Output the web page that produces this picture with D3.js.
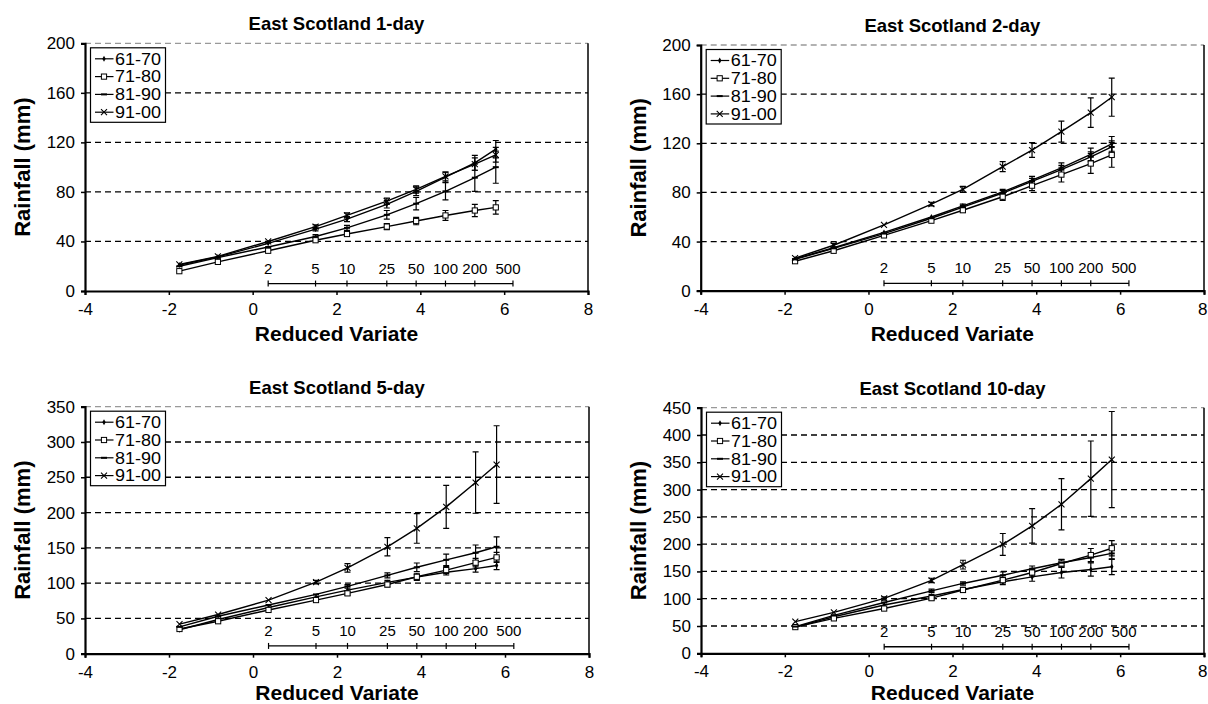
<!DOCTYPE html>
<html><head><meta charset="utf-8">
<script src="https://cdn.jsdelivr.net/npm/d3@7"></script>
<style>
body{margin:0;background:#fff;}
svg{display:block;font-family:"Liberation Sans",Arial,Helvetica,sans-serif;}
</style></head><body>
<svg id="c" width="1208" height="704"></svg>
<script>
// ---------- data ----------
const seriesNames = ["61-70", "71-80", "81-90", "91-00"];
const reducedVariate = [-1.75, -0.83, 0.37, 1.50, 2.25, 3.20, 3.90, 4.60, 5.30, 5.80];
const returnPeriods = ["2", "5", "10", "25", "50", "100", "200", "500"];
const returnVariate = [0.37, 1.50, 2.25, 3.20, 3.90, 4.60, 5.30, 6.21];
const titles = ["East Scotland 1-day", "East Scotland 2-day", "East Scotland 5-day", "East Scotland 10-day"];
const yMaxes = [200, 200, 350, 450];
const yTickSteps = [40, 40, 50, 50];
const xTicks = [-4, -2, 0, 2, 4, 6, 8];
const returnAxisLevel = [6, 6, 11, 12];

const day1 = [
  [21, 27.5, 38.5, 50, 58, 70, 80.5, 92, 103.5, 114.5],
  [16, 23.5, 32.5, 41, 46, 52, 56.5, 61, 65, 67.5],
  [20, 27, 35.5, 44, 51, 61.5, 70.5, 80.5, 91.5, 100],
  [21.5, 28, 40, 52, 61, 72.5, 82, 92.5, 102.5, 110]
];
const day1Err = [
  [0.5, 0.5, 1, 1.5, 2, 3, 3.5, 4, 6, 7],
  [0.5, 0.5, 1, 1, 1.5, 2.5, 3, 4, 5, 5.5],
  [0.5, 0.5, 1, 1.5, 2, 3.5, 5, 7, 11, 13],
  [0.5, 0.5, 1, 1.5, 2, 2.5, 3, 3.5, 5, 6]
];
const day2 = [
  [26, 35, 47.5, 60, 69, 80.5, 90, 100, 111, 119.5],
  [24, 32.5, 45, 57, 65.5, 76.5, 85.5, 94.5, 103.5, 110.5],
  [25.5, 34.5, 46.5, 59, 68, 79.5, 89, 98.5, 109, 117],
  [26.5, 37, 53.5, 70.5, 82.5, 101, 114.5, 129.5, 145, 157.5]
];
const day2Err = [
  [0.5, 0.5, 1, 1, 1.5, 2, 3, 4, 5, 6],
  [0.5, 0.5, 1, 1, 1.5, 3, 4, 6, 8, 10],
  [0.5, 0.5, 1, 1, 1.5, 2, 2.5, 3.5, 4, 5],
  [0.5, 1.5, 1, 1.5, 2.5, 4, 6, 8.5, 12, 15.5]
];
const day5 = [
  [34, 48.5, 65.5, 80.5, 90, 101, 108.5, 115.5, 120.5, 125],
  [35, 46, 62, 76, 85.5, 98, 109, 118.5, 129, 136.5],
  [38, 53, 69, 84, 95.5, 111, 122.5, 133, 143, 151.5],
  [42, 55.5, 76, 101.5, 121.5, 151.5, 177.5, 208, 242.5, 268]
];
const day5Err = [
  [1, 1, 1, 1.5, 2, 3, 3.5, 4, 5, 6],
  [1, 1, 1, 2, 2.5, 3.5, 5, 5, 6, 7],
  [1, 1, 1, 2, 2.5, 3.5, 6, 8, 11, 14],
  [1, 1, 1.5, 2.5, 6, 13, 21, 30.5, 43.5, 55]
];
const day10 = [
  [48, 67, 88.5, 105, 117, 131, 140, 148, 153.5, 158.5],
  [48, 64, 82, 101, 116, 134, 148, 164.5, 180, 192.5],
  [49, 69.5, 93, 114.5, 128, 143, 155, 166, 175.5, 183],
  [58, 75, 100.5, 133.5, 162.5, 199.5, 233.5, 273, 320, 355]
];
const day10Err = [
  [1, 1, 2, 3, 4, 5, 8, 10, 12, 14.5],
  [1, 1, 2, 3, 4, 5, 6, 7, 12, 14],
  [1, 1, 2, 3, 3, 6, 5, 6, 8, 11],
  [1, 2, 3, 4, 8, 20, 31.5, 47, 69, 88]
];

// ---------- layout ----------
const frames = [
  {l: 85, r: 588, t: 43.3, b: 291},
  {l: 700.7, r: 1204, t: 45, b: 290.7},
  {l: 85, r: 589, t: 406.7, b: 653.7},
  {l: 701, r: 1204, t: 407.7, b: 653.3}
];
const allData = [day1, day2, day5, day10];
const allErr = [day1Err, day2Err, day5Err, day10Err];

const svg = d3.select("#c");
svg.append("rect").attr("width", 1208).attr("height", 704).attr("fill", "#fff");

function drawMarker(g, type, cx, cy) {
  if (type === 0) {
    g.append("path").attr("d", d3.symbol(d3.symbolDiamond, 10)())
      .attr("transform", `translate(${cx},${cy})`).attr("fill", "#000");
  } else if (type === 1) {
    g.append("rect").attr("x", cx - 2.6).attr("y", cy - 2.6).attr("width", 5.2).attr("height", 5.2)
      .attr("fill", "#fff").attr("stroke", "#000").attr("stroke-width", 1);
  } else if (type === 2) {
    g.append("line").attr("x1", cx - 3).attr("x2", cx + 3).attr("y1", cy).attr("y2", cy)
      .attr("stroke", "#000").attr("stroke-width", 2);
  } else {
    g.append("path").attr("d", `M${cx-3},${cy-3}L${cx+3},${cy+3}M${cx-3},${cy+3}L${cx+3},${cy-3}`)
      .attr("stroke", "#000").attr("stroke-width", 1.1).attr("fill", "none");
  }
}

frames.forEach((f, pi) => {
  const x = d3.scaleLinear().domain([-4, 8]).range([f.l, f.r]);
  const y = d3.scaleLinear().domain([0, yMaxes[pi]]).range([f.b, f.t]);
  const yTicks = d3.range(0, yMaxes[pi] + 1, yTickSteps[pi]);
  const g = svg.append("g");

  // gridlines
  g.append("g").selectAll("line").data(yTicks.filter(v => v > 0 && v < yMaxes[pi])).join("line")
    .attr("x1", f.l).attr("x2", f.r).attr("y1", d => y(d)).attr("y2", d => y(d))
    .attr("stroke", "#000").attr("stroke-width", 1.3).attr("stroke-dasharray", "6,4");
  // top border (dashed, lighter)
  g.append("line").attr("x1", f.l).attr("x2", f.r).attr("y1", y(yMaxes[pi])).attr("y2", y(yMaxes[pi]))
    .attr("stroke", "#999").attr("stroke-width", 1.3).attr("stroke-dasharray", "6,4");
  // right border
  g.append("line").attr("x1", f.r).attr("x2", f.r).attr("y1", f.t).attr("y2", f.b)
    .attr("stroke", "#000").attr("stroke-width", 1.5);

  // series lines
  const line = d3.line().x((d, i) => x(reducedVariate[i])).y(d => y(d));
  const data = allData[pi], err = allErr[pi];
  data.forEach((s) => {
    g.append("path").attr("d", line(s)).attr("fill", "none").attr("stroke", "#000").attr("stroke-width", 1.4);
  });
  // error bars
  data.forEach((s, si) => {
    s.forEach((v, i) => {
      const e = err[si][i];
      const cx = x(reducedVariate[i]);
      const y1 = y(v - e), y2 = y(v + e);
      if (y1 - y2 < 3) return;
      g.append("path").attr("d", `M${cx},${y1}L${cx},${y2}M${cx-3},${y1}L${cx+3},${y1}M${cx-3},${y2}L${cx+3},${y2}`)
        .attr("stroke", "#000").attr("stroke-width", 1.2).attr("fill", "none");
    });
  });
  // markers
  data.forEach((s, si) => {
    s.forEach((v, i) => drawMarker(g, si, x(reducedVariate[i]), y(v)));
  });

  // return period axis
  const ry = y(returnAxisLevel[pi]);
  g.append("line").attr("x1", x(returnVariate[0])).attr("x2", x(returnVariate[returnVariate.length - 1]))
    .attr("y1", ry).attr("y2", ry).attr("stroke", "#000").attr("stroke-width", 1.3);
  g.append("g").selectAll("line").data(returnVariate).join("line")
    .attr("x1", d => x(d)).attr("x2", d => x(d)).attr("y1", ry - 3).attr("y2", ry + 3)
    .attr("stroke", "#000").attr("stroke-width", 1.2);
  g.append("g").selectAll("text").data(returnPeriods).join("text")
    .attr("x", (d, i) => x(returnVariate[i]) - (i === returnPeriods.length - 1 ? 5 : 0))
    .attr("y", ry - 10).attr("text-anchor", "middle")
    .attr("font-size", 15).attr("fill", "#000").text(d => d);

  // axes
  const ax = g.append("g").attr("transform", `translate(0,${f.b})`)
    .call(d3.axisBottom(x).tickValues(xTicks).tickSize(4).tickPadding(8).tickFormat(d => String(d)));
  ax.select(".domain").attr("stroke-width", 2.2);
  ax.selectAll(".tick line").attr("stroke-width", 1.5);
  ax.selectAll("text").attr("font-size", 17).attr("font-family", null).attr("fill", "#000");
  // keep the last label inside the picture (the reference shows it at the right edge)
  ax.selectAll(".tick text").filter(d => x(d) + 6 > 1208)
    .attr("text-anchor", "end").attr("dx", 1207 - x(8));
  const ay = g.append("g").attr("transform", `translate(${f.l},0)`)
    .call(d3.axisLeft(y).tickValues(yTicks).tickSize(4).tickPadding(6).tickFormat(d => String(d)));
  ay.select(".domain").attr("stroke-width", 2.2);
  ay.selectAll(".tick line").attr("stroke-width", 1.5);
  ay.selectAll("text").attr("font-size", 17).attr("font-family", null).attr("fill", "#000");

  // legend
  const lg = g.append("g").attr("transform", `translate(${f.l + 5.5},${f.t + 4.5})`);
  lg.append("rect").attr("width", 75).attr("height", 74.5).attr("fill", "#fff")
    .attr("stroke", "#000").attr("stroke-width", 1.2);
  seriesNames.forEach((n, si) => {
    const cy = 11 + si * 17.8;
    lg.append("line").attr("x1", 4.5).attr("x2", 23).attr("y1", cy).attr("y2", cy)
      .attr("stroke", "#000").attr("stroke-width", 1.2);
    drawMarker(lg, si, 13.5, cy);
    lg.append("text").attr("x", 24.5).attr("y", cy).attr("dy", "0.36em")
      .attr("font-size", 16).attr("fill", "#000")
      .attr("textLength", 46).attr("lengthAdjust", "spacingAndGlyphs").text(n);
  });

  // titles
  g.append("text").attr("x", (f.l + f.r) / 2).attr("y", f.t - 13).attr("text-anchor", "middle")
    .attr("font-size", 18.5).attr("font-weight", "bold").text(titles[pi]);
  const xtY = Math.min(f.b + 50, 699.5);
  g.append("text").attr("x", (f.l + f.r) / 2).attr("y", xtY).attr("text-anchor", "middle")
    .attr("font-size", 21).attr("font-weight", "bold").text("Reduced Variate");
  g.append("text").attr("transform", `translate(${f.l - 63},${(f.t + f.b) / 2}) rotate(-90)`)
    .attr("text-anchor", "middle").attr("dy", "0.36em")
    .attr("font-size", 22).attr("font-weight", "bold").text("Rainfall (mm)");
});
</script>
</body></html>
